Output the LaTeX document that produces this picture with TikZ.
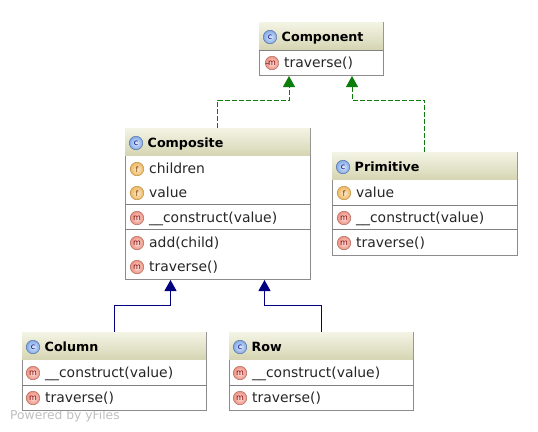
\documentclass[tikz,border=0pt]{standalone}
\usepackage{fontspec}
\setmainfont{DejaVu Sans}
\usetikzlibrary{positioning,arrows.meta,shadows}
\definecolor{headtop}{HTML}{F4F4E6}
\definecolor{headbot}{HTML}{D6D6B4}
\definecolor{inhgreen}{HTML}{0B7D0B}
\definecolor{extblue}{HTML}{000080}
\definecolor{classout}{HTML}{7FA8E8}
\definecolor{fieldout}{HTML}{EDB65A}
\definecolor{methodout}{HTML}{EE9080}
\tikzset{
    umlbox/.style={draw=black!45, fill=white, anchor=north west, inner sep=0pt, outer sep=0pt,
        drop shadow={shadow xshift=1pt, shadow yshift=-1pt, fill=black!60, opacity=.8}},
    headbox/.style={anchor=north west, inner sep=0pt, outer sep=0pt, minimum height=27pt,
        top color=headtop, bottom color=headbot},
    sepline/.style={draw=black!50, line width=.8pt},
    icon/.style={circle, inner sep=0pt, minimum size=13.5pt, font=\fontsize{8}{8}\selectfont, line width=.5pt},
    classicon/.style={icon, draw=classout!70!black, inner color=classout!25, outer color=classout, text=blue!50!black},
    fieldicon/.style={icon, draw=fieldout!80!black, inner color=fieldout!25, outer color=fieldout, text=orange!50!black},
    methodicon/.style={icon, draw=methodout!75!black, inner color=methodout!25, outer color=methodout, text=red!50!black},
    title/.style={right=4.5pt of #1, font=\fontsize{12.7}{13}\selectfont\bfseries, text height=9.5pt, text depth=1pt, inner sep=0pt},
    member/.style={right=5pt of #1, font=\fontsize{13.9}{14}\selectfont, text height=10pt, text depth=1pt, inner sep=0pt, text=black!85},
    inhline/.style={-{Triangle[length=11pt,width=12pt]}, inhgreen, dash pattern=on 5pt off 2pt, line width=1pt},
    extline/.style={-{Triangle[length=11pt,width=12pt]}, extblue, line width=1pt},
}

\begin{document}
\begin{tikzpicture}[x=1pt, y=-1pt]
\useasboundingbox (0,0) rectangle (538,431);

\node (yfiles) [anchor=west, inner sep=0pt, text=black!25, font=\fontsize{12.3}{13}\selectfont] at (10,416) {Powered by yFiles};

% boxes
\foreach \nm/\x/\y/\w/\h/\txt in {component/259/22/124/53/Component,
    composite/125/128/185/151/Composite,
    primitive/332/152/185/103/Primitive,
    column/22/332/184/78/Column,
    row/229/332/184/78/Row}{
    \node (\nm) [umlbox, minimum width=\w pt, minimum height=\h pt] at (\x,\y) {};
    \node (\nm-head) [headbox, minimum width=\w pt] at (\x,\y) {};
    \node (\nm-icon) [classicon] at (\x+11,\y+15) {c};
    \node (\nm-title) [title=\nm-icon] {\txt};
}

% separators
\foreach \x/\y/\w in {259/50/124, 125/204/185, 125/229/185, 332/205/185, 332/229/185,
    22/385/184, 229/385/184}
    \draw [sepline] (\x,\y) -- ++(\w,0);

% members
\foreach \nm/\x/\y/\kind/\ltr/\txt in {traversea/272/63/method/m/traverse(),
    children/137/169/field/f/children,
    valuea/137/193/field/f/value,
    constructa/137/218/method/m/\_\_construct(value),
    add/137/243/method/m/add(child),
    traverseb/137/267/method/m/traverse(),
    valueb/344/193/field/f/value,
    constructb/344/218/method/m/\_\_construct(value),
    traversec/344/243/method/m/traverse(),
    constructc/33/373/method/m/\_\_construct(value),
    traversed/33/398/method/m/traverse(),
    constructd/240/373/method/m/\_\_construct(value),
    traversee/240/398/method/m/traverse()}{
    \node (\nm-icon) [\kind icon] at (\x,\y) {\ltr};
    \node (\nm-text) [member=\nm-icon] {\txt};
}
\draw [methodout!60!black, line width=.8pt] (traversea-icon.west) -- ([xshift=3.5pt]traversea-icon.west);

% arrows
\coordinate (bendtop) at (0,100);
\coordinate (bendlow) at (0,305);
\coordinate (cmpa) at ([xshift=-32pt,yshift=-1pt]component.south);
\coordinate (cmpb) at ([xshift=31pt,yshift=-1pt]component.south);
\coordinate (cpsa) at ([xshift=-47pt,yshift=-1pt]composite.south);
\coordinate (cpsb) at ([xshift=47pt,yshift=-1pt]composite.south);
\draw [inhline] (composite.north) |- (cmpa |- bendtop) -- (cmpa);
\draw [inhline] (primitive.north) |- (cmpb |- bendtop) -- (cmpb);
\draw [extline] (column.north) |- (cpsa |- bendlow) -- (cpsa);
\draw [extline] (row.north) |- (cpsb |- bendlow) -- (cpsb);
\end{tikzpicture}
\end{document}
